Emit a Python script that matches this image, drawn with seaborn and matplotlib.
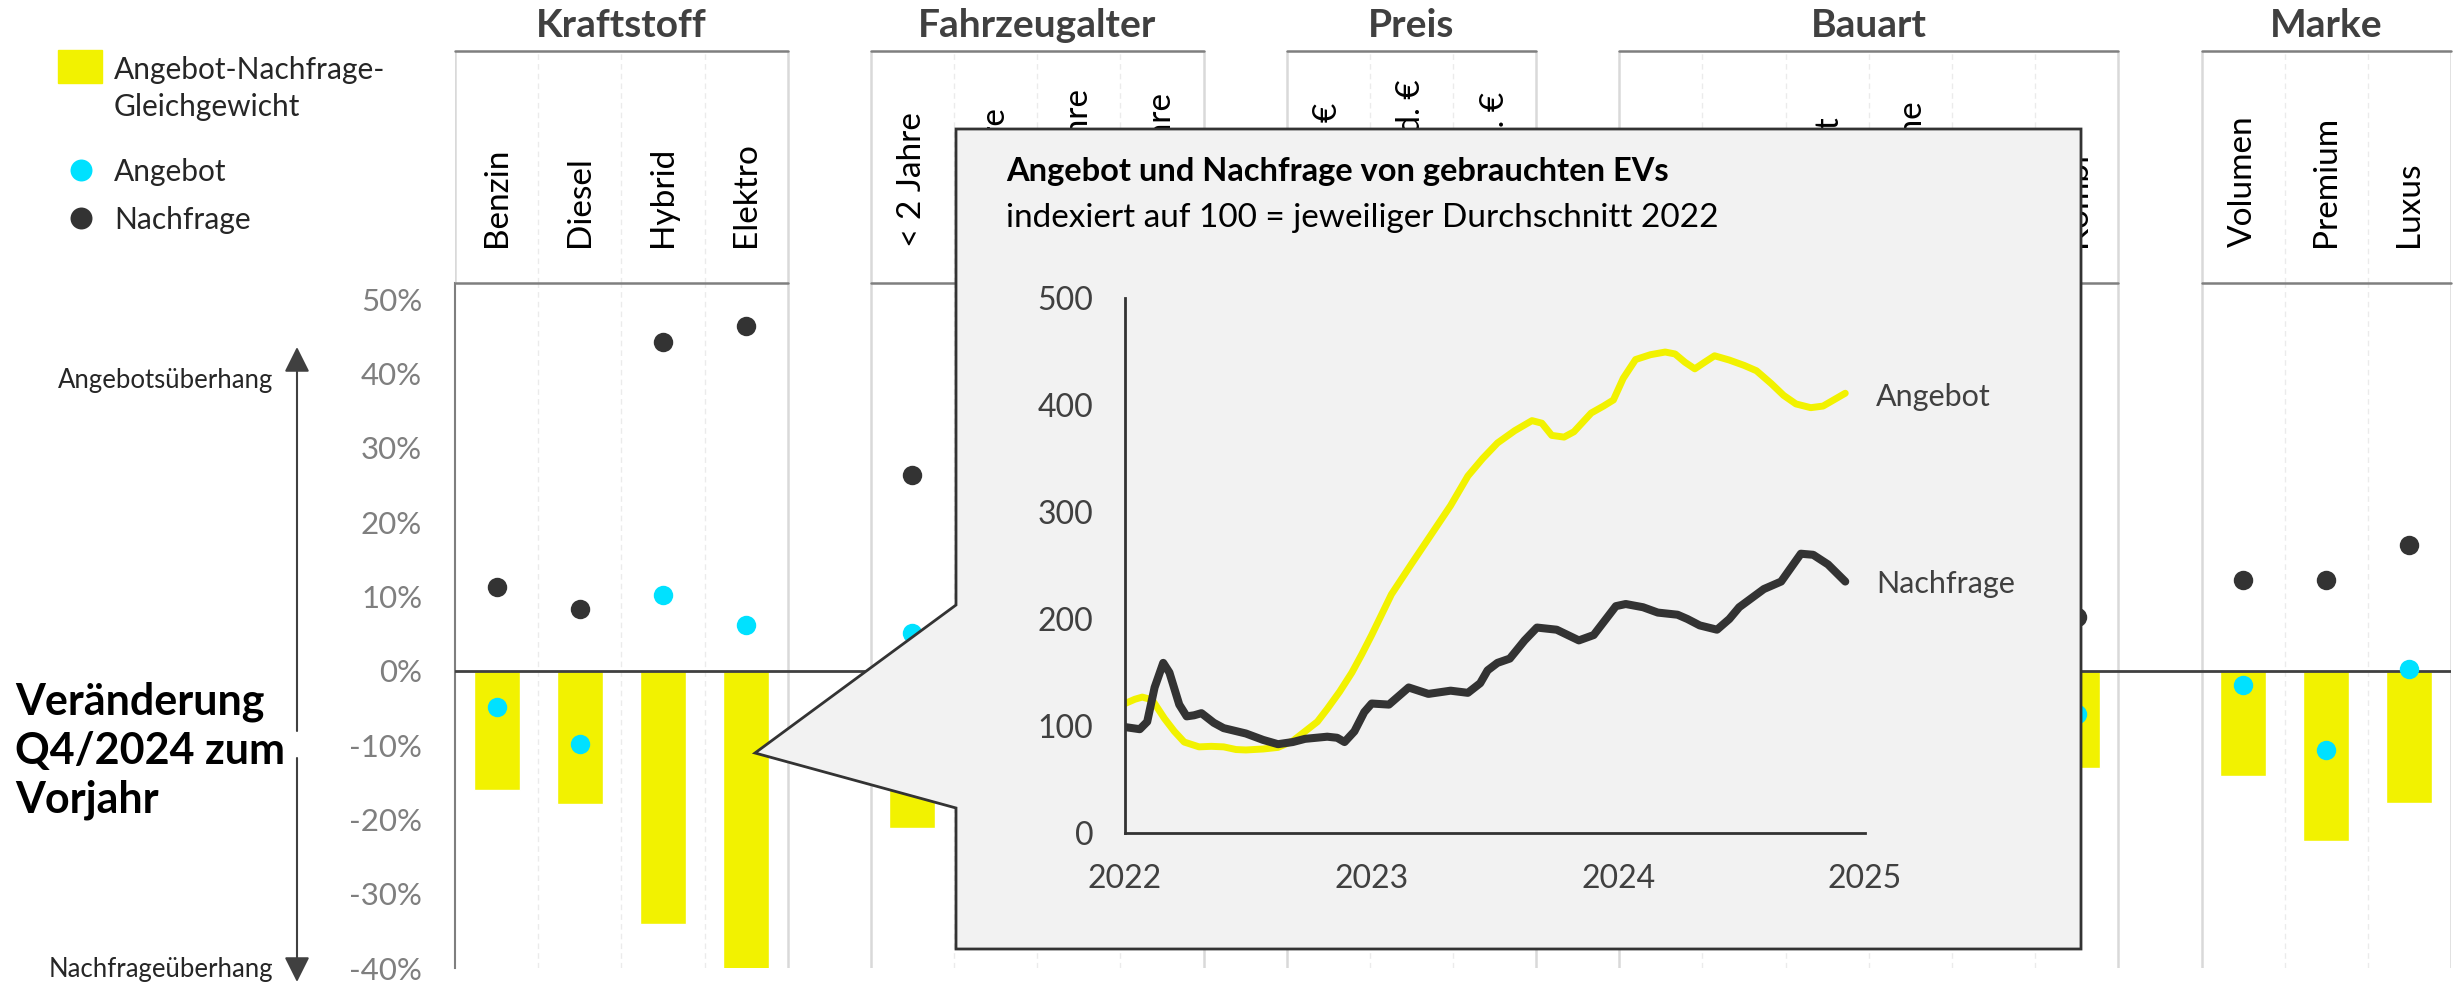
import numpy as np
import pandas as pd
import matplotlib
matplotlib.use("Agg")
import matplotlib.pyplot as plt
import seaborn as sns
from matplotlib.patches import Polygon, Rectangle

sns.set_style("white")
plt.rcParams["font.family"] = ["Lato", "DejaVu Sans"]

# ---------------- data ----------------
# 24 slots incl. empty gap columns between the groups
slot_ids = ["benzin", "diesel", "hybrid", "elektro", "gap1",
            "alt1", "alt2", "alt3", "alt4", "gap2",
            "preis1", "preis2", "preis3", "gap3",
            "bau1", "bau2", "bau3", "bau4", "bau5", "bau6", "gap4",
            "volumen", "premium", "luxus"]
slot_labels = ["Benzin", "Diesel", "Hybrid", "Elektro", "",
               "< 2 Jahre", "2-4 Jahre", "5-10 Jahre", "> 10 Jahre", "",
               "< 5 Tsd. €", "5-20 Tsd. €", ">20 Tsd. €", "",
               "SUV", "Van", "Kompakt", "Limousine", "Cabrio", "Kombi", "",
               "Volumen", "Premium", "Luxus"]

# values in % (hidden behind the inset -> None)
gleichgewicht = [-16.1, -17.9, -34.1, -40.2, None,
                 -21.2, None, None, None, None,
                 None, None, None, None,
                 None, None, None, None, None, -13.1, None,
                 -14.1, -22.9, -17.8]
angebot = [-4.9, -9.8, 10.2, 6.2, None,
           5.1, None, None, None, None,
           None, None, None, None,
           None, None, None, None, None, -5.8, None,
           -1.9, -10.7, 0.3]
nachfrage = [11.3, 8.3, 44.2, 46.4, None,
             26.4, None, None, None, None,
             None, None, None, None,
             None, None, None, None, None, 7.2, None,
             12.2, 12.2, 17.0]

group_names = ["Kraftstoff", "Fahrzeugalter", "Preis", "Bauart", "Marke"]
group_slots = [(0, 3), (5, 8), (10, 12), (14, 19), (21, 23)]

# inset: index 100 = average 2022
ev_angebot_t = [2022.00, 2022.04, 2022.07, 2022.11, 2022.16, 2022.20, 2022.24, 2022.30,
                2022.35, 2022.40, 2022.45, 2022.49, 2022.56, 2022.62, 2022.68, 2022.73,
                2022.78, 2022.82, 2022.87, 2022.92, 2022.96, 2023.00, 2023.04, 2023.08,
                2023.16, 2023.24, 2023.32, 2023.39, 2023.45, 2023.51, 2023.58, 2023.65,
                2023.69, 2023.73, 2023.78, 2023.82, 2023.89, 2023.94, 2023.98, 2024.02,
                2024.07, 2024.13, 2024.19, 2024.23, 2024.27, 2024.31, 2024.35, 2024.39,
                2024.45, 2024.51, 2024.56, 2024.62, 2024.67, 2024.72, 2024.78, 2024.83,
                2024.92]
ev_angebot = [121, 125, 127, 124.5, 107, 95, 85, 80.5,
              81, 80.5, 78, 77.6, 78.5, 80, 86, 95,
              104, 116, 132, 150, 167, 185, 204, 223,
              251, 278.5, 306, 333.6, 350, 364.5, 376, 385.4,
              383, 371.6, 370, 375, 392.5, 399, 404.7, 425,
              442.5, 447, 449.5, 447.7, 440, 433.8, 440, 446,
              442, 437, 432, 420, 409, 401, 397.5, 399,
              411]

ev_nachfrage_t = [2022.00, 2022.06, 2022.09, 2022.12, 2022.155, 2022.18, 2022.22, 2022.25,
                  2022.28, 2022.31, 2022.36, 2022.40, 2022.49, 2022.56, 2022.62, 2022.68,
                  2022.73, 2022.82, 2022.86, 2022.89, 2022.93, 2022.97, 2023.00, 2023.07,
                  2023.15, 2023.23, 2023.32, 2023.39, 2023.44, 2023.47, 2023.51, 2023.56,
                  2023.62, 2023.67, 2023.75, 2023.84, 2023.90, 2023.95, 2023.99, 2024.03,
                  2024.10, 2024.16, 2024.24, 2024.28, 2024.33, 2024.40, 2024.45, 2024.49,
                  2024.59, 2024.66, 2024.70, 2024.74, 2024.79, 2024.85, 2024.92]
ev_nachfrage = [99, 97, 104, 136, 159, 150, 120, 109,
                110, 112, 103, 98, 93, 87, 83, 85,
                88, 90, 89, 85, 95, 113, 121, 120,
                136, 130, 133, 131, 140, 152, 159, 163,
                180, 192, 190, 180, 185, 200, 212, 214,
                211, 206, 204, 200, 194, 190, 200, 211,
                228, 235, 248, 261, 260, 251, 235]

# ---------------- colours ----------------
GELB = "#F2F200"
CYAN = "#00E1FF"
DUNKEL = "#333333"
GRAU = "#7F7F7F"
TXT = "#404040"

W, H = 2463, 984
fig = plt.figure(figsize=(W / 100, H / 100), dpi=100)

df = pd.DataFrame({"slot": slot_ids,
                   "gleichgewicht": pd.to_numeric(pd.Series(gleichgewicht), errors="coerce"),
                   "angebot": pd.to_numeric(pd.Series(angebot), errors="coerce"),
                   "nachfrage": pd.to_numeric(pd.Series(nachfrage), errors="coerce")})

# ---------------- main chart ----------------
ax = fig.add_axes([455 / W, 1 - 968 / H, 1996 / W, (968 - 283) / H])
sns.barplot(data=df, x="slot", y="gleichgewicht", order=slot_ids, color=GELB,
            saturation=1, width=0.553, errorbar=None, ax=ax, zorder=2)
sns.stripplot(data=df, x="slot", y="angebot", order=slot_ids, jitter=False,
              color=CYAN, size=14, linewidth=0, ax=ax, zorder=5)
sns.stripplot(data=df, x="slot", y="nachfrage", order=slot_ids, jitter=False,
              color=DUNKEL, size=14, linewidth=0, ax=ax, zorder=5)
ax.set_xticks([])
ax.set_xlim(-0.5, len(slot_ids) - 0.5)
ax.set_ylim(-40, 52.2)
ax.set_xlabel("")
ax.set_ylabel("")
ticks = list(range(-40, 51, 10))
ax.set_yticks(ticks)
ax.set_yticklabels([f"{t}%" for t in ticks])
ax.tick_params(axis="y", direction="out", length=8.6, width=1.5, color=GRAU,
               labelsize=22.5, labelcolor=GRAU, pad=15)
for s in ["top", "right", "bottom"]:
    ax.spines[s].set_visible(False)
ax.spines["left"].set_color(GRAU)
ax.spines["left"].set_linewidth(1.5)
ax.axhline(0, color=TXT, lw=2.0, zorder=4)

edges = {0, 4, 5, 9, 10, 13, 14, 20, 21, 24}

# header with category labels
hx = fig.add_axes([455 / W, 1 - 283 / H, 1996 / W, (283 - 51) / H])
hx.set_xlim(-0.5, len(slot_ids) - 0.5)
hx.set_ylim(0, 1)
hx.axis("off")

for k in range(len(slot_ids) + 1):
    xb = k - 0.5
    if k in edges:
        if k != 0:
            ax.axvline(xb, color="#D9D9D9", lw=1.8, zorder=1)
        hx.axvline(xb, color="#D9D9D9", lw=1.8, zorder=1)
    else:
        ax.axvline(xb, color="#EBEBEB", lw=1.0, ls=(0, (4, 3)), zorder=1)
        hx.axvline(xb, color="#EBEBEB", lw=1.0, ls=(0, (4, 3)), zorder=1)

for name, (a, b) in zip(group_names, group_slots):
    hx.plot([a - 0.5, b + 0.5], [1, 1], color=GRAU, lw=1.8, clip_on=False, zorder=3)
    hx.plot([a - 0.5, b + 0.5], [0, 0], color=GRAU, lw=1.8, clip_on=False, zorder=3)
    hx.text((a + b) / 2, 1.06, name, ha="center", va="baseline", fontsize=28,
            fontweight="bold", color=TXT)

for i, lab in enumerate(slot_labels):
    if lab:
        hx.text(i, 0.155, lab, rotation=90, ha="center", va="bottom",
                fontsize=24, color="black")

# ---------------- overlay (pixel coordinates) ----------------
ov = fig.add_axes([0, 0, 1, 1], zorder=5)
ov.set_xlim(0, W)
ov.set_ylim(H, 0)
ov.axis("off")

# legend
ov.add_patch(Rectangle((58, 50), 44, 33, color=GELB))
ov.text(114, 79, "Angebot-Nachfrage-", fontsize=21.5, va="baseline")
ov.text(114, 116, "Gleichgewicht", fontsize=21.5, va="baseline")
ov.scatter([81], [170], s=250, color=CYAN, linewidths=0)
ov.scatter([81], [218], s=250, color=DUNKEL, linewidths=0)
ov.text(114, 181, "Angebot", fontsize=21.5, va="baseline")
ov.text(114, 229, "Nachfrage", fontsize=21.5, va="baseline")

# left side annotation
ov.text(273, 388, "Angebotsüberhang", ha="right", va="baseline", fontsize=18.5)
ov.text(273, 977, "Nachfrageüberhang", ha="right", va="baseline", fontsize=18.5)
arrow = dict(arrowstyle="-|>,head_length=0.7,head_width=0.35", color=TXT, lw=1.5,
             mutation_scale=22, shrinkA=0, shrinkB=0)
ov.annotate("", xy=(297, 347), xytext=(297, 731), arrowprops=arrow)
ov.annotate("", xy=(297, 982), xytext=(297, 758), arrowprops=arrow)
for txt, yb in zip(["Veränderung", "Q4/2024 zum", "Vorjahr"], [715, 764, 813]):
    ov.text(15, yb, txt, fontsize=31, fontweight="bold", va="baseline", color="black")

# callout box for the inset
callout = Polygon([(956, 129), (2081, 129), (2081, 949), (956, 949), (956, 808),
                   (755, 753), (956, 605)], closed=True, facecolor="#F2F2F2",
                  edgecolor=DUNKEL, lw=2.0, joinstyle="miter")
ov.add_patch(callout)
ov.text(1006, 181, "Angebot und Nachfrage von gebrauchten EVs", fontsize=23.5,
        fontweight="bold", va="baseline", color="black")
ov.text(1006, 227, "indexiert auf 100 = jeweiliger Durchschnitt 2022", fontsize=24,
        va="baseline", color="black")
ov.text(1876, 406, "Angebot", fontsize=22, va="baseline", color=TXT)
ov.text(1876, 593, "Nachfrage", fontsize=22, va="baseline", color=TXT)

# ---------------- inset line chart ----------------
ax_in = fig.add_axes([1125 / W, 1 - 833 / H, 740 / W, 535 / H], zorder=6)
ax_in.set_facecolor("none")
sns.lineplot(x=ev_angebot_t, y=ev_angebot, color=GELB, lw=5.0, ax=ax_in,
             solid_capstyle="round", solid_joinstyle="round")
sns.lineplot(x=ev_nachfrage_t, y=ev_nachfrage, color=DUNKEL, lw=5.8, ax=ax_in,
             solid_capstyle="round", solid_joinstyle="round")
ax_in.set_xlim(2022, 2025)
ax_in.set_ylim(0, 500)
ax_in.set_xticks([2022, 2023, 2024, 2025])
ax_in.set_xticklabels(["2022", "2023", "2024", "2025"])
ax_in.set_yticks([0, 100, 200, 300, 400, 500])
ax_in.tick_params(direction="out", length=8.6, width=2, color=DUNKEL,
                  labelsize=23, labelcolor=TXT, pad=14)
for s in ["top", "right"]:
    ax_in.spines[s].set_visible(False)
for s in ["left", "bottom"]:
    ax_in.spines[s].set_color(DUNKEL)
    ax_in.spines[s].set_linewidth(2)
ax_in.set_xlabel("")
ax_in.set_ylabel("")

fig.savefig("out.png", dpi=100)
